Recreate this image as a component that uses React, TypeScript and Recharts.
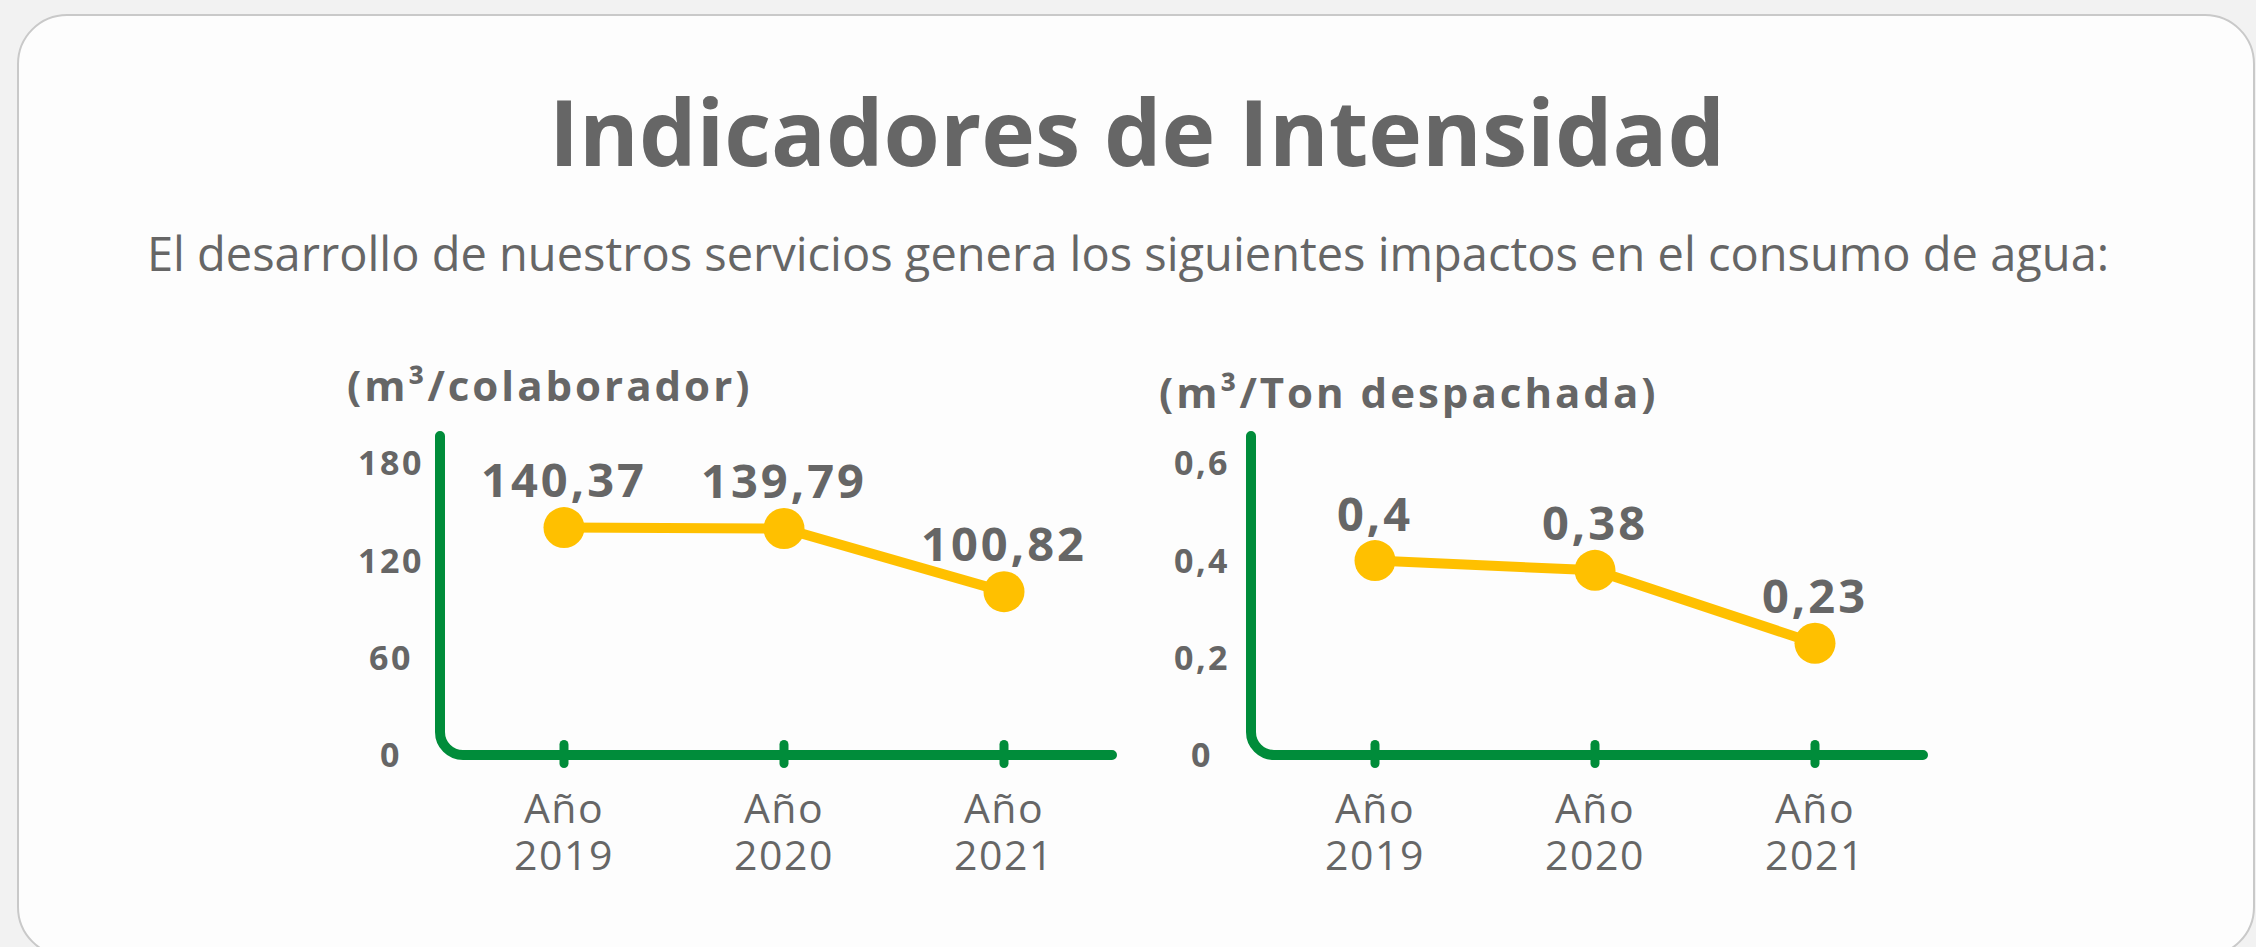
import { LineChart, Line, XAxis, YAxis, LabelList, Customized } from 'recharts';

const YEARS = ['2019', '2020', '2021'];
const PER_COLLABORATOR = [140.37, 139.79, 100.82];
const PER_TON = [0.4, 0.38, 0.23];
const COLLAB_TICKS = [0, 60, 120, 180];
const TON_TICKS = [0, 0.2, 0.4, 0.6];

const GREEN = '#008C3A';
const YELLOW = '#FFC000';
const GREY = '#666666';
const FONT = '"Open Sans", sans-serif';

// chart box geometry (same for both charts)
const CHART_W = 900;
const CHART_H = 560;
const MARGIN = { top: 51, right: 83, bottom: 85, left: 40 };
const Y_AXIS_W = 100;
const X_AXIS_H = 100;
const PLOT_LEFT = MARGIN.left + Y_AXIS_W;
const PLOT_RIGHT = CHART_W - MARGIN.right;
const PLOT_BOTTOM = CHART_H - MARGIN.bottom - X_AXIS_H;

const fmt = (v: number) => String(v).replace('.', ',');

// L-shaped green frame with rounded corner
const Frame = () => {
  const r = 23;
  const d = `M${PLOT_LEFT},${MARGIN.top + 5} L${PLOT_LEFT},${PLOT_BOTTOM - r} A${r},${r} 0 0 0 ${PLOT_LEFT + r},${PLOT_BOTTOM} L${PLOT_RIGHT - 5},${PLOT_BOTTOM}`;
  return <path d={d} fill="none" stroke={GREEN} strokeWidth={10} strokeLinecap="round" strokeLinejoin="round" />;
};

// tick mark on the axis + two-line "Año / year" label
const YearTick = ({ x, y, payload }: any) => (
  <g>
    <line x1={x} x2={x} y1={y - 10.5} y2={y + 8.5} stroke={GREEN} strokeWidth={9} strokeLinecap="round" />
    <text x={x} y={y + 68} textAnchor="middle" fill={GREY} fontSize={41} letterSpacing={1.5} fontFamily={FONT}>
      <tspan x={x}>Año</tspan>
      <tspan x={x} dy={47}>{payload.value}</tspan>
    </text>
  </g>
);

const ValueTick = ({ x, y, payload }: any) => (
  <text x={x - 49} y={y} dy={12} textAnchor="middle" fill={GREY} fontSize={34} letterSpacing={2.5} fontWeight={700} fontFamily={FONT}>
    {fmt(payload.value)}
  </text>
);

const IntensityChart = ({ values, ticks, domainMax, labelOffset, left }: any) => {
  const data = YEARS.map((year, i) => ({ year, value: values[i] }));

  const PointLabel = ({ x, y, value }: any) => (
    <text x={x} y={y - labelOffset} textAnchor="middle" fill={GREY} fontSize={47} letterSpacing={3} fontWeight={700} fontFamily={FONT}>
      {fmt(value)}
    </text>
  );

  return (
    <div style={{ position: 'absolute', left, top: 380 }}>
      <LineChart width={CHART_W} height={CHART_H} data={data} margin={MARGIN}>
        <XAxis
          dataKey="year"
          height={X_AXIS_H}
          axisLine={false}
          tickLine={false}
          tickSize={0}
          tickMargin={0}
          padding={{ left: 124, right: 113 }}
          tick={<YearTick />}
          interval={0}
        />
        <YAxis
          width={Y_AXIS_W}
          domain={[0, domainMax]}
          ticks={ticks}
          axisLine={false}
          tickLine={false}
          tickSize={0}
          tickMargin={0}
          tick={<ValueTick />}
          interval={0}
        />
        <Customized component={<Frame />} />
        <Line
          dataKey="value"
          stroke={YELLOW}
          strokeWidth={10}
          dot={{ r: 20.5, fill: YELLOW, stroke: 'none' }}
          activeDot={false}
          isAnimationActive={false}
        >
          <LabelList dataKey="value" content={<PointLabel />} />
        </Line>
      </LineChart>
    </div>
  );
};

export default function App() {
  return (
    <div style={{ position: 'absolute', left: 0, top: 0, width: 2256, height: 947, background: '#f2f2f2', overflow: 'hidden', fontFamily: FONT }}>
      <div
        style={{
          position: 'absolute',
          left: 17,
          top: 14,
          width: 2238,
          height: 943,
          boxSizing: 'border-box',
          border: '2px solid #c9c9c9',
          borderRadius: 50,
          background: '#fdfdfd',
        }}
      />
      <div style={{ position: 'absolute', left: 0, top: 86, width: 2274, textAlign: 'center', fontSize: 91, lineHeight: 1, fontWeight: 700, color: GREY }}>
        Indicadores de Intensidad
      </div>
      <div style={{ position: 'absolute', left: 0, top: 230, width: 2256, textAlign: 'center', fontSize: 47, lineHeight: 1, color: GREY }}>
        El desarrollo de nuestros servicios genera los siguientes impactos en el consumo de agua:
      </div>
      <div style={{ position: 'absolute', left: 347, top: 364, fontSize: 42, letterSpacing: 3, lineHeight: 1, fontWeight: 700, color: GREY, whiteSpace: 'nowrap' }}>
        (m³/colaborador)
      </div>
      <div style={{ position: 'absolute', left: 1159, top: 371, fontSize: 42, letterSpacing: 3, lineHeight: 1, fontWeight: 700, color: GREY, whiteSpace: 'nowrap' }}>
        (m³/Ton despachada)
      </div>
      <IntensityChart values={PER_COLLABORATOR} ticks={COLLAB_TICKS} domainMax={200} labelOffset={31} left={300} />
      <IntensityChart values={PER_TON} ticks={TON_TICKS} domainMax={0.6667} labelOffset={30} left={1111} />
    </div>
  );
}
